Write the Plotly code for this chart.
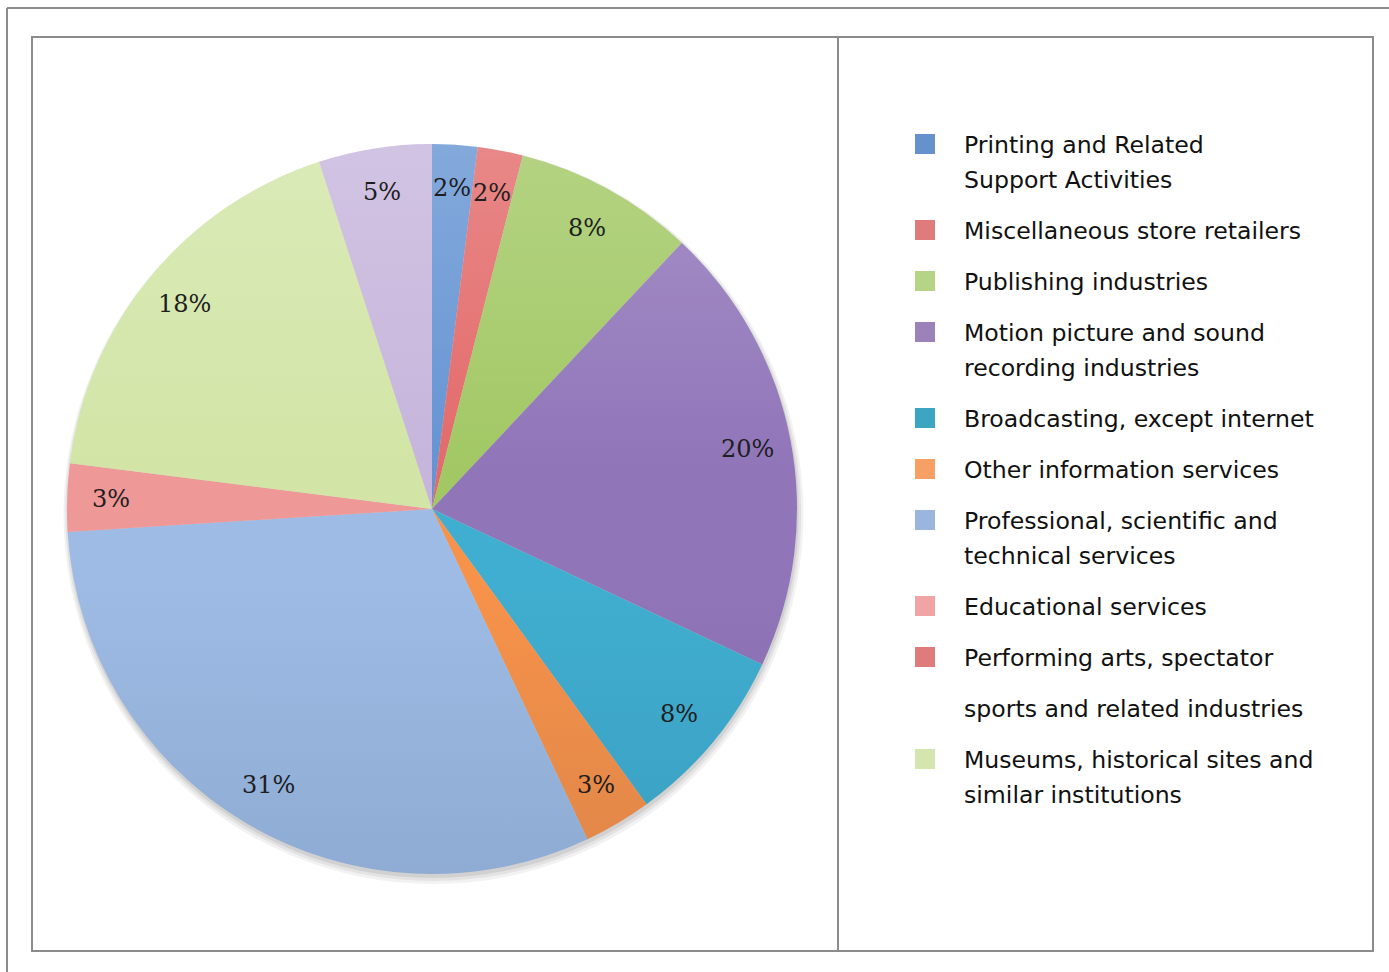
import math
import base64
import plotly.graph_objects as go

W, H = 1389, 972

# Share of establishments by industry (percent), in slice order clockwise from 12 o'clock
slice_names = [
    "Printing and Related Support Activities",
    "Miscellaneous store retailers",
    "Publishing industries",
    "Motion picture and sound recording industries",
    "Broadcasting, except internet",
    "Other information services",
    "Professional, scientific and technical services",
    "Educational services",
    "Performing arts, spectator sports and related industries",
    "Museums, historical sites and similar institutions",
]
slice_values = [2, 2, 8, 20, 8, 3, 31, 3, 18, 5]
slice_colors = ["#6594d3", "#e36a6a", "#a2c864", "#9075b9", "#40aed0",
                "#f7924a", "#9dbbe4", "#ee9898", "#d2e5a6", "#c6b5dc"]

# Legend entries: each entry is a list of text lines plus its swatch colour
legend_lines = [
    ["Printing and Related", "Support Activities"],
    ["Miscellaneous store retailers"],
    ["Publishing industries"],
    ["Motion picture and sound", "recording industries"],
    ["Broadcasting, except internet"],
    ["Other information services"],
    ["Professional, scientific and", "technical services"],
    ["Educational services"],
    ["Performing arts, spectator"],
    ["sports and related industries"],
    ["Museums, historical sites and", "similar institutions"],
]
legend_colors = ["#6592cc", "#e07b7b", "#b5d486", "#9b82b8", "#3da5c2",
                 "#f6a066", "#9ab5de", "#f0a4a4", "#e07b7b", None, "#d5e5b0"]


def px_x(x):
    return x / W


def px_y(y):
    return 1 - y / H


# Pie geometry in pixels
cx, cy, R = 432, 509, 365

fig = go.Figure()
fig.add_trace(go.Pie(
    labels=slice_names,
    values=slice_values,
    marker=dict(colors=slice_colors, line=dict(width=0)),
    sort=False,
    direction="clockwise",
    rotation=0,
    textinfo="none",
    hoverinfo="label+percent",
    showlegend=False,
    domain=dict(x=[px_x(cx - R), px_x(cx + R)], y=[px_y(cy + R), px_y(cy - R)]),
))

shapes = []
# soft drop shadow under the pie
for off, grow, alpha in [(5, 5, 0.05), (4, 3, 0.06), (3, 1, 0.08)]:
    shapes.append(dict(
        type="circle", xref="paper", yref="paper", layer="below",
        x0=px_x(cx - R - grow + off * 0.3), x1=px_x(cx + R + grow + off * 0.3),
        y0=px_y(cy + R + grow + off), y1=px_y(cy - R - grow + off),
        fillcolor=f"rgba(0,0,0,{alpha})", line=dict(width=0),
    ))

frame = dict(color="#8c8c8c", width=2)
# outer page frame (top and left edges)
shapes.append(dict(type="line", xref="paper", yref="paper",
                   x0=px_x(7), x1=1, y0=px_y(8), y1=px_y(8), line=frame))
shapes.append(dict(type="line", xref="paper", yref="paper",
                   x0=px_x(7), x1=px_x(7), y0=px_y(8), y1=0, line=frame))
# chart box and divider between pie and legend
shapes.append(dict(type="rect", xref="paper", yref="paper",
                   x0=px_x(32), x1=px_x(1373), y0=px_y(951), y1=px_y(37), line=frame))
shapes.append(dict(type="line", xref="paper", yref="paper",
                   x0=px_x(838), x1=px_x(838), y0=px_y(951), y1=px_y(37), line=frame))

annotations = []
# percentage labels near the outer edge of each slice
total = sum(slice_values)
cum = 0
for v in slice_values:
    mid = (cum + v / 2) / total * 2 * math.pi
    cum += v
    r = 0.88 * R
    lx = cx + r * math.sin(mid)
    ly = cy - r * math.cos(mid)
    annotations.append(dict(
        x=px_x(lx), y=px_y(ly), xref="paper", yref="paper",
        text=f"{v}%", showarrow=False, xanchor="center", yanchor="middle",
        font=dict(family="DejaVu Serif", size=24, color="#1e1e1e"),
    ))

# legend drawn as swatches and text lines
y = 144
row_gap = 51
line_gap = 35
for lines, col in zip(legend_lines, legend_colors):
    if col is not None:
        shapes.append(dict(type="rect", xref="paper", yref="paper",
                           x0=px_x(915), x1=px_x(935), y0=px_y(y + 10), y1=px_y(y - 10),
                           fillcolor=col, line=dict(width=0)))
    for i, t in enumerate(lines):
        annotations.append(dict(
            x=px_x(962), y=px_y(y + 1 + i * line_gap), xref="paper", yref="paper",
            text=t, showarrow=False, xanchor="left", yanchor="middle",
            font=dict(family="DejaVu Sans", size=23.6, color="#111111"),
        ))
    y += row_gap + (len(lines) - 1) * line_gap

# vertical light-to-dark shading laid over the pie disc
shade_svg = (
    '<svg xmlns="http://www.w3.org/2000/svg" width="200" height="200" viewBox="0 0 200 200">'
    '<defs><linearGradient id="g" x1="0" y1="0" x2="0" y2="1">'
    '<stop offset="0" stop-color="#ffffff" stop-opacity="0.2"/>'
    '<stop offset="0.45" stop-color="#ffffff" stop-opacity="0"/>'
    '<stop offset="0.6" stop-color="#102040" stop-opacity="0"/>'
    '<stop offset="1" stop-color="#102040" stop-opacity="0.1"/>'
    '</linearGradient></defs>'
    '<circle cx="100" cy="100" r="100" fill="url(#g)"/></svg>'
)
shade_src = "data:image/svg+xml;base64," + base64.b64encode(shade_svg.encode()).decode()

fig.update_layout(
    width=W, height=H,
    margin=dict(l=0, r=0, t=0, b=0),
    paper_bgcolor="white", plot_bgcolor="white",
    shapes=shapes, annotations=annotations,
    images=[dict(source=shade_src, xref="paper", yref="paper",
                 x=px_x(cx - R), y=px_y(cy - R), sizex=2 * R / W, sizey=2 * R / H,
                 xanchor="left", yanchor="top", sizing="stretch", layer="above")],
)

fig.write_html("out.html")
